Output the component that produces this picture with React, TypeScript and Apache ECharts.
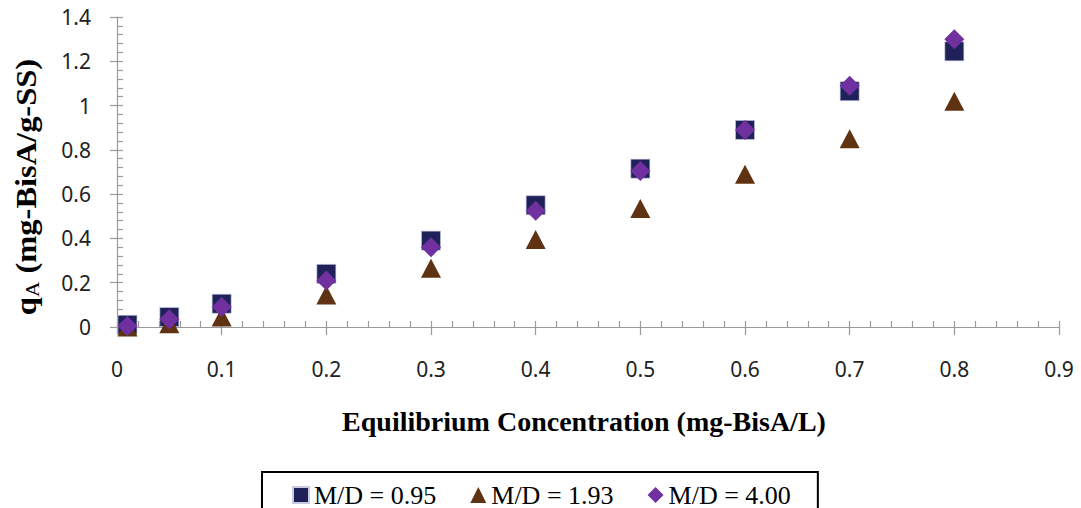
import React, { useEffect, useRef } from "react";
import * as echarts from "echarts";

const xValues = [0.01, 0.05, 0.1, 0.2, 0.3, 0.4, 0.5, 0.6, 0.7, 0.8];
const md095 = [0.01, 0.045, 0.105, 0.24, 0.39, 0.55, 0.715, 0.89, 1.065, 1.245];
const md193 = [0.0, 0.015, 0.045, 0.145, 0.265, 0.395, 0.535, 0.69, 0.85, 1.02];
const md400 = [0.005, 0.035, 0.09, 0.21, 0.36, 0.525, 0.705, 0.89, 1.09, 1.3];
const seriesNames = ["M/D = 0.95", "M/D = 1.93", "M/D = 4.00"];
const xTitle = "Equilibrium Concentration (mg-BisA/L)";
const yTitleMain = "q";
const yTitleSub = "A";
const yTitleRest = " (mg-BisA/g-SS)";

const AXIS_COLOR = "#9a9a9a";
const TICK_FONT = "'Noto Sans', sans-serif";
const SERIF = "'Liberation Serif', 'Times New Roman', serif";

function pairs(ys: number[]) {
  return xValues.map((x, i) => [x, ys[i]]);
}

export default function App() {
  const ref = useRef<HTMLDivElement>(null);
  useEffect(() => {
    if (!ref.current) return;
    const chart = echarts.init(ref.current, null, { renderer: "svg" });
    const baseX = {
      type: "value",
      min: 0,
      max: 0.9,
      interval: 0.1,
      position: "bottom",
      splitLine: { show: false },
    };
    const baseY = {
      type: "value",
      min: 0,
      max: 1.4,
      interval: 0.2,
      position: "left",
      splitLine: { show: false },
    };
    chart.setOption({
      animation: false,
      backgroundColor: "#ffffff",
      grid: { left: 117, right: 22, top: 17, bottom: 181, containLabel: false },
      xAxis: [
        {
          ...baseX,
          axisLine: { show: true, onZero: false, lineStyle: { color: AXIS_COLOR, width: 1.2 } },
          axisTick: { show: true, inside: true, length: 6, lineStyle: { color: AXIS_COLOR, width: 1.2 } },
          minorTick: { show: true, splitNumber: 5, length: 6, lineStyle: { color: AXIS_COLOR, width: 1.2 } },
          axisLabel: {
            show: true,
            margin: 31,
            fontSize: 21,
            fontFamily: TICK_FONT,
            color: "#222",
            formatter: (v: number) => String(Math.round(v * 10) / 10),
          },
        },
        {
          ...baseX,
          axisLine: { show: false, onZero: false },
          axisTick: { show: true, inside: false, length: 8, lineStyle: { color: AXIS_COLOR, width: 1.2 } },
          axisLabel: { show: false },
        },
      ],
      yAxis: [
        {
          ...baseY,
          axisLine: { show: true, onZero: false, lineStyle: { color: AXIS_COLOR, width: 1.2 } },
          axisTick: { show: true, inside: true, length: 6, lineStyle: { color: AXIS_COLOR, width: 1.2 } },
          minorTick: { show: true, splitNumber: 5, length: 6, lineStyle: { color: AXIS_COLOR, width: 1.2 } },
          axisLabel: {
            show: true,
            margin: 26,
            fontSize: 21,
            fontFamily: TICK_FONT,
            color: "#222",
            formatter: (v: number) => String(Math.round(v * 10) / 10),
          },
        },
        {
          ...baseY,
          axisLine: { show: false, onZero: false },
          axisTick: { show: true, inside: false, length: 7, lineStyle: { color: AXIS_COLOR, width: 1.2 } },
          axisLabel: { show: false },
        },
      ],
      legend: {
        show: true,
        data: seriesNames,
        left: 262,
        top: 472,
        orient: "horizontal",
        itemWidth: 16,
        itemHeight: 16,
        itemGap: 34,
        padding: [10, 27, 14, 30],
        borderColor: "#000",
        borderWidth: 2,
        textStyle: { fontFamily: SERIF, fontSize: 26, color: "#000" },
      },
      graphic: [
        {
          type: "text",
          x: 584,
          y: 421,
          style: {
            text: xTitle,
            font: `bold 28px ${SERIF}`,
            fill: "#000",
            align: "center",
            verticalAlign: "middle",
          },
        },
        {
          type: "text",
          x: 27,
          y: 187,
          rotation: Math.PI / 2,
          scaleX: 1.12,
          style: {
            text: `{b|${yTitleMain}}{s|${yTitleSub}}{b|${yTitleRest}}`,
            align: "center",
            verticalAlign: "middle",
            rich: {
              b: { fontFamily: SERIF, fontWeight: "bold", fontSize: 29, lineHeight: 30, fill: "#000" },
              s: {
                fontFamily: SERIF,
                fontWeight: "normal",
                fontSize: 19,
                lineHeight: 8,
                verticalAlign: "bottom",
                padding: [6, 0, 0, 0],
                fill: "#000",
              },
            },
          },
        },
      ],
      series: [
        {
          name: seriesNames[0],
          type: "scatter",
          xAxisIndex: 0,
          yAxisIndex: 0,
          symbol: "rect",
          symbolSize: 19,
          itemStyle: { color: "#1E2259", borderColor: "#c8cbe0", borderWidth: 0.6, opacity: 1 },
          data: pairs(md095),
        },
        {
          name: seriesNames[1],
          type: "scatter",
          xAxisIndex: 0,
          yAxisIndex: 0,
          symbol: "triangle",
          symbolSize: [20, 19],
          itemStyle: { color: "#5F3311", opacity: 1 },
          data: pairs(md193),
        },
        {
          name: seriesNames[2],
          type: "scatter",
          xAxisIndex: 0,
          yAxisIndex: 0,
          symbol: "diamond",
          symbolSize: [20, 20],
          itemStyle: { color: "#7030A0", opacity: 1 },
          data: pairs(md400),
        },
      ],
    });
    return () => chart.dispose();
  }, []);
  return (
    <div
      ref={ref}
      style={{ position: "absolute", left: 0, top: 0, width: 1081, height: 508, background: "#fff" }}
    />
  );
}
